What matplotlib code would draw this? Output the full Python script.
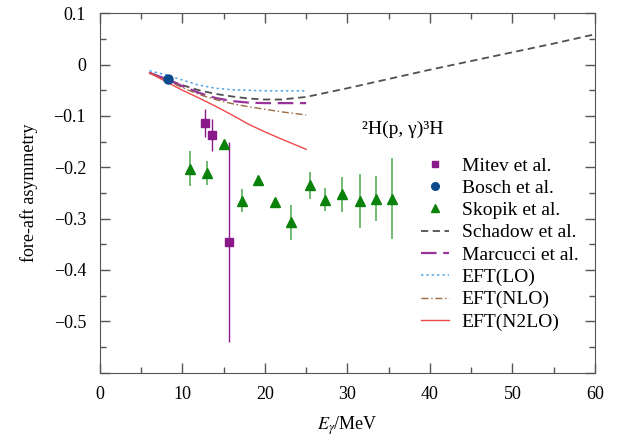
import numpy as np
import matplotlib
matplotlib.use("Agg")
import matplotlib.pyplot as plt
from matplotlib.ticker import MultipleLocator
from matplotlib.lines import Line2D

plt.rcParams['font.family'] = ['Liberation Serif', 'DejaVu Serif']
plt.rcParams['mathtext.fontset'] = 'stix'
plt.rcParams['font.size'] = 13

# Datos experimentales
mitev_E = [12.7, 13.6, 15.6]
mitev_A = [-0.114, -0.137, -0.345]
mitev_err = [0.028, 0.031, 0.195]

bosch_E = [8.2]
bosch_A = [-0.029]
bosch_err = [0.006]

skopik_E = [10.9, 13.0, 15.1, 17.2, 19.2, 21.2, 23.2, 25.5, 27.3, 29.4, 31.5, 33.5, 35.4]
skopik_A = [-0.203, -0.211, -0.154, -0.265, -0.224, -0.268, -0.307,
            -0.235, -0.263, -0.253, -0.266, -0.261, -0.261]
skopik_err = [0.034, 0.023, 0.0, 0.022, 0.0, 0.0, 0.034,
              0.026, 0.023, 0.034, 0.053, 0.044, 0.079]

# Curvas teoricas
schadow_E = [6, 8, 10, 12, 14, 16, 18, 20, 22, 25, 30, 35, 40, 45, 50, 55, 60]
schadow_A = [-0.016, -0.028, -0.040, -0.050, -0.057, -0.062, -0.066, -0.068,
             -0.068, -0.063, -0.046, -0.028, -0.010, 0.007, 0.024, 0.041, 0.059]

marcucci_E = [6, 8, 10, 12, 14, 16, 18, 20, 22, 25]
marcucci_A = [-0.016, -0.028, -0.042, -0.055, -0.065, -0.071, -0.074, -0.075, -0.075, -0.075]

lo_E = [6, 8, 10, 12, 14, 16, 18, 20, 22, 25]
lo_A = [-0.012, -0.020, -0.030, -0.040, -0.046, -0.049, -0.050, -0.051, -0.051, -0.051]

nlo_E = [6, 8, 10, 12, 14, 16, 18, 20, 22, 25]
nlo_A = [-0.016, -0.030, -0.045, -0.058, -0.068, -0.076, -0.082, -0.087, -0.092, -0.098]

n2lo_E = [6, 8, 10, 12, 14, 16, 18, 20, 22, 25]
n2lo_A = [-0.016, -0.033, -0.050, -0.065, -0.081, -0.098, -0.116, -0.131, -0.145, -0.165]

fig = plt.figure(figsize=(6.17, 4.43), dpi=100)
ax = fig.add_axes([0.162, 0.159, 0.802, 0.811])

l_sch, = ax.plot(schadow_E, schadow_A, color='#505050', ls=(0, (4, 2.5)), lw=1.3)
l_mar, = ax.plot(marcucci_E, marcucci_A, color='#993399', ls=(0, (7, 3)), lw=1.6)
l_lo, = ax.plot(lo_E, lo_A, color='#4aa3e8', ls=(0, (1.5, 2)), lw=1.1)
l_nlo, = ax.plot(nlo_E, nlo_A, color='#9a6a40', ls=(0, (5, 2, 1, 2)), lw=1.0)
l_n2lo, = ax.plot(n2lo_E, n2lo_A, color='#f04848', ls='-', lw=1.0)

ax.errorbar(mitev_E, mitev_A, yerr=mitev_err, fmt='s', color='#8a1a8a', ms=6,
            elinewidth=1.0, capsize=0, zorder=5)
ax.errorbar(bosch_E, bosch_A, yerr=bosch_err, fmt='o', color='#0b4a8c', ms=6.5,
            elinewidth=1.0, capsize=0, zorder=5)
ax.errorbar(skopik_E, skopik_A, yerr=skopik_err, fmt='^', color='#0a820a', ecolor='#5aae5a',
            ms=6.5, elinewidth=1.2, capsize=0, zorder=5)

ax.text(31.8, -0.126, '²H(p, γ)³H', fontsize=14, va='center', ha='left')

ax.set_xlim(0, 60)
ax.set_ylim(-0.6, 0.1)
ax.xaxis.set_major_locator(MultipleLocator(10))
ax.xaxis.set_minor_locator(MultipleLocator(5))
ax.yaxis.set_major_locator(MultipleLocator(0.1))
ax.yaxis.set_minor_locator(MultipleLocator(0.05))
ax.tick_params(which='both', direction='in', top=True, right=True, color='#555555')
ax.tick_params(which='major', length=7, width=1)
ax.tick_params(which='minor', length=4, width=1)
ax.tick_params(axis='x', pad=10)
ax.tick_params(axis='y', pad=10)


def yfmt(v, p):
    if abs(v) < 1e-9:
        return '0'
    if v < -0.55:
        return ''
    return ('%.1f' % v).replace('-', '\u2212')


ax.yaxis.set_major_formatter(plt.FuncFormatter(yfmt))
for s in ax.spines.values():
    s.set_color('#555555')

ax.set_xlabel(r'$E_\gamma$/MeV', labelpad=8)
ax.set_ylabel('fore-aft asymmetry', labelpad=11)

# Leyenda con marcadores sin barras de error
h_mit = Line2D([], [], ls='none', marker='s', color='#8a1a8a', ms=5)
h_bos = Line2D([], [], ls='none', marker='o', color='#0b4a8c', ms=5.5)
h_sko = Line2D([], [], ls='none', marker='^', color='#0a820a', ms=5.5)
handles = [h_mit, h_bos, h_sko, l_sch, l_mar, l_lo, l_nlo, l_n2lo]
labels = ['Mitev et al.', 'Bosch et al.', 'Skopik et al.', 'Schadow et al.',
          'Marcucci et al.', 'EFT(LO)', 'EFT(NLO)', 'EFT(N2LO)']
ax.legend(handles, labels, loc='upper left', bbox_to_anchor=(0.648, 0.6),
          frameon=False, borderpad=0, borderaxespad=0, handlelength=1.45,
          handletextpad=0.67, labelspacing=0.24, fontsize=14)

fig.savefig('out.png', dpi=100)
